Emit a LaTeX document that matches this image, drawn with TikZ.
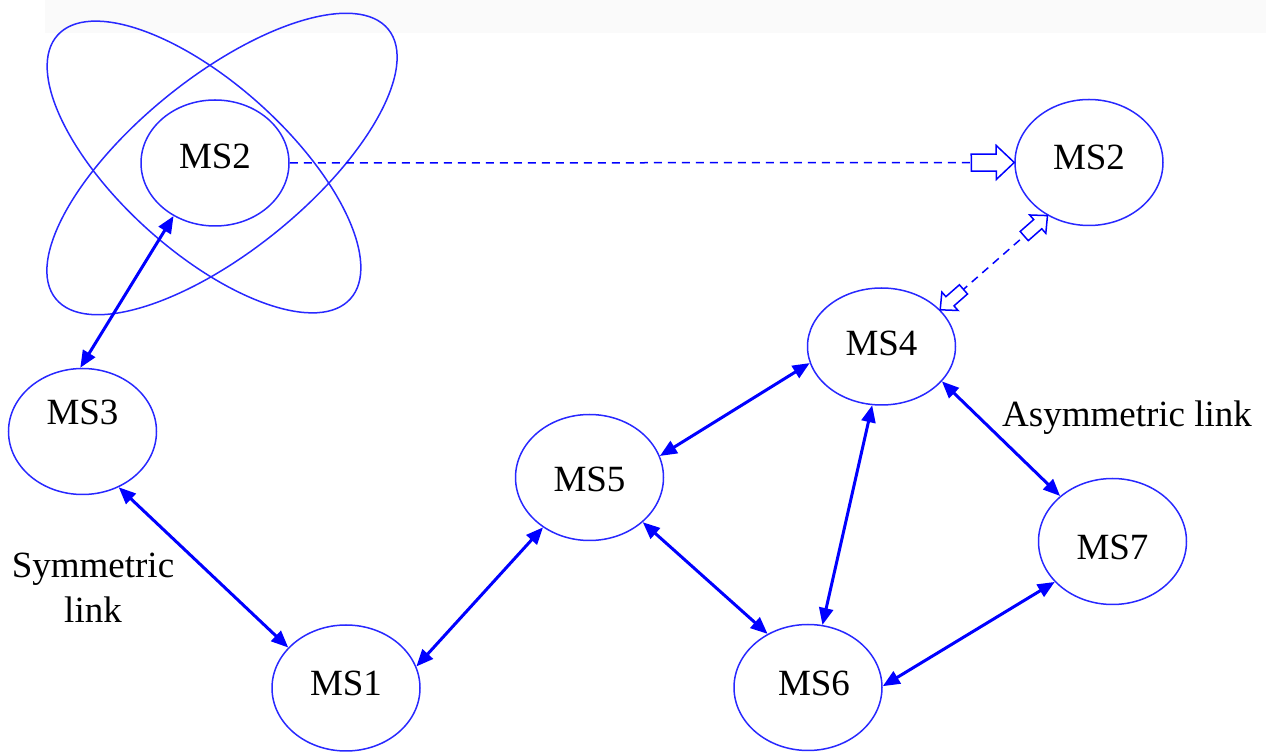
\documentclass[tikz,border=0pt]{standalone}
\usepackage{fontspec}
\setmainfont{Liberation Serif}
\usetikzlibrary{arrows.meta,shapes.geometric,decorations.markings}

\definecolor{linkblue}{RGB}{0,0,255}
\definecolor{rimblue}{RGB}{40,40,255}
\definecolor{bandgray}{RGB}{250,250,250}

\tikzset{
  station/.style={ellipse, draw=rimblue, line width=0.75pt, inner sep=0pt,
    minimum width=74pt, minimum height=63pt, text height=12.3pt, text depth=0pt,
    font=\fontsize{18.5}{22}\selectfont},
  % raise (positive) or lower (negative) the name inside a station, in px
  lift/.style={text depth=#1pt},
  sink/.style={text height=12.3pt+#1pt},
  note/.style={inner sep=0pt, font=\fontsize{18.5}{22.5}\selectfont},
  orbit/.style={draw=rimblue, line width=0.75pt},
  duplex/.style={draw=linkblue, line width=1.5pt,
    {Triangle[length=8.5pt,width=7pt]}-{Triangle[length=8.5pt,width=7pt]}},
  probe/.style={draw=linkblue, line width=0.75pt, dash pattern=on 4pt off 3pt},
  % outlined block arrow head at the end of a path
  hollowend/.style={postaction={decorate}, decoration={markings,
    mark=at position 1 with {\draw[solid, draw=linkblue, fill=white, line width=0.75pt, scale=#1]
      (0,0) -- (-9pt,8.5pt) -- (-9pt,4.25pt) -- (-21.5pt,4.25pt) -- (-21.5pt,-4.25pt)
      -- (-9pt,-4.25pt) -- (-9pt,-8.5pt) -- cycle;}}},
  % outlined block arrow heads at both ends of a path
  hollowboth/.style={postaction={decorate}, decoration={markings,
    mark=at position 0 with {\draw[solid, draw=linkblue, fill=white, line width=0.75pt, scale=#1]
      (0,0) -- (9pt,8.5pt) -- (9pt,4.25pt) -- (21.5pt,4.25pt) -- (21.5pt,-4.25pt)
      -- (9pt,-4.25pt) -- (9pt,-8.5pt) -- cycle;},
    mark=at position 1 with {\draw[solid, draw=linkblue, fill=white, line width=0.75pt, scale=#1]
      (0,0) -- (-9pt,8.5pt) -- (-9pt,4.25pt) -- (-21.5pt,4.25pt) -- (-21.5pt,-4.25pt)
      -- (-9pt,-4.25pt) -- (-9pt,-8.5pt) -- cycle;}}}
}

\begin{document}
\begin{tikzpicture}[x=0.5pt, y=-0.5pt]
  \useasboundingbox (0,0) rectangle (1266,753);
  \fill[bandgray] (45,0) rectangle (1266,33);

  % crossed coverage ellipses around the moving station
  \draw[orbit, rotate around={39:(222,164)}] (222,164) ellipse [x radius=107pt, y radius=43.5pt];
  \draw[orbit, rotate around={-42:(204,167)}] (204,167) ellipse [x radius=98.5pt, y radius=42pt];

  % stations
  \node[station, lift=6.5] (ms2a) at (215,163) {MS2};
  \node[station, lift=5] (ms2b) at (1089,162.5) {MS2};
  \node[station, lift=19] (ms3) at (82.5,431.5) {MS3};
  \node[station, lift=3.5, minimum height=58.5pt] (ms4) at (881.5,346.5) {MS4};
  \node[station, sink=2] (ms5) at (589.5,477.5) {MS5};
  \node[station, lift=5] (ms1) at (346,688) {MS1};
  \node[station, lift=4] (ms6) at (808,687.5) {\hspace*{6pt}MS6};
  \node[station, sink=6] (ms7) at (1112.5,541.5) {MS7};

  % links
  \draw[duplex] (ms3.92) -- (ms2a.232);
  \draw[duplex] (ms3.303) -- (ms1.145);
  \draw[duplex] (ms1.17) -- (ms5.227);
  \draw[duplex] (ms5.17) -- (ms4.193);
  \draw[duplex] (ms5.320) -- (ms6.127);
  \draw[duplex] (ms4.261) -- (ms6.77);
  \draw[duplex] (ms4.330) -- (ms7.139);
  \draw[duplex] (ms6.1) -- (ms7.215);

  % movement of MS2 and its new link
  \draw[probe, hollowend=1] (ms2a.east) -- (ms2b.west);
  \draw[probe, hollowboth=0.72] (ms4.32) -- (ms2b.232);

  % labels
  \node[note, align=center] (symlabel) at (93,588) {Symmetric\\link};
  \node[note] (asymlabel) at (1127,418) {Asymmetric link};
\end{tikzpicture}
\end{document}
